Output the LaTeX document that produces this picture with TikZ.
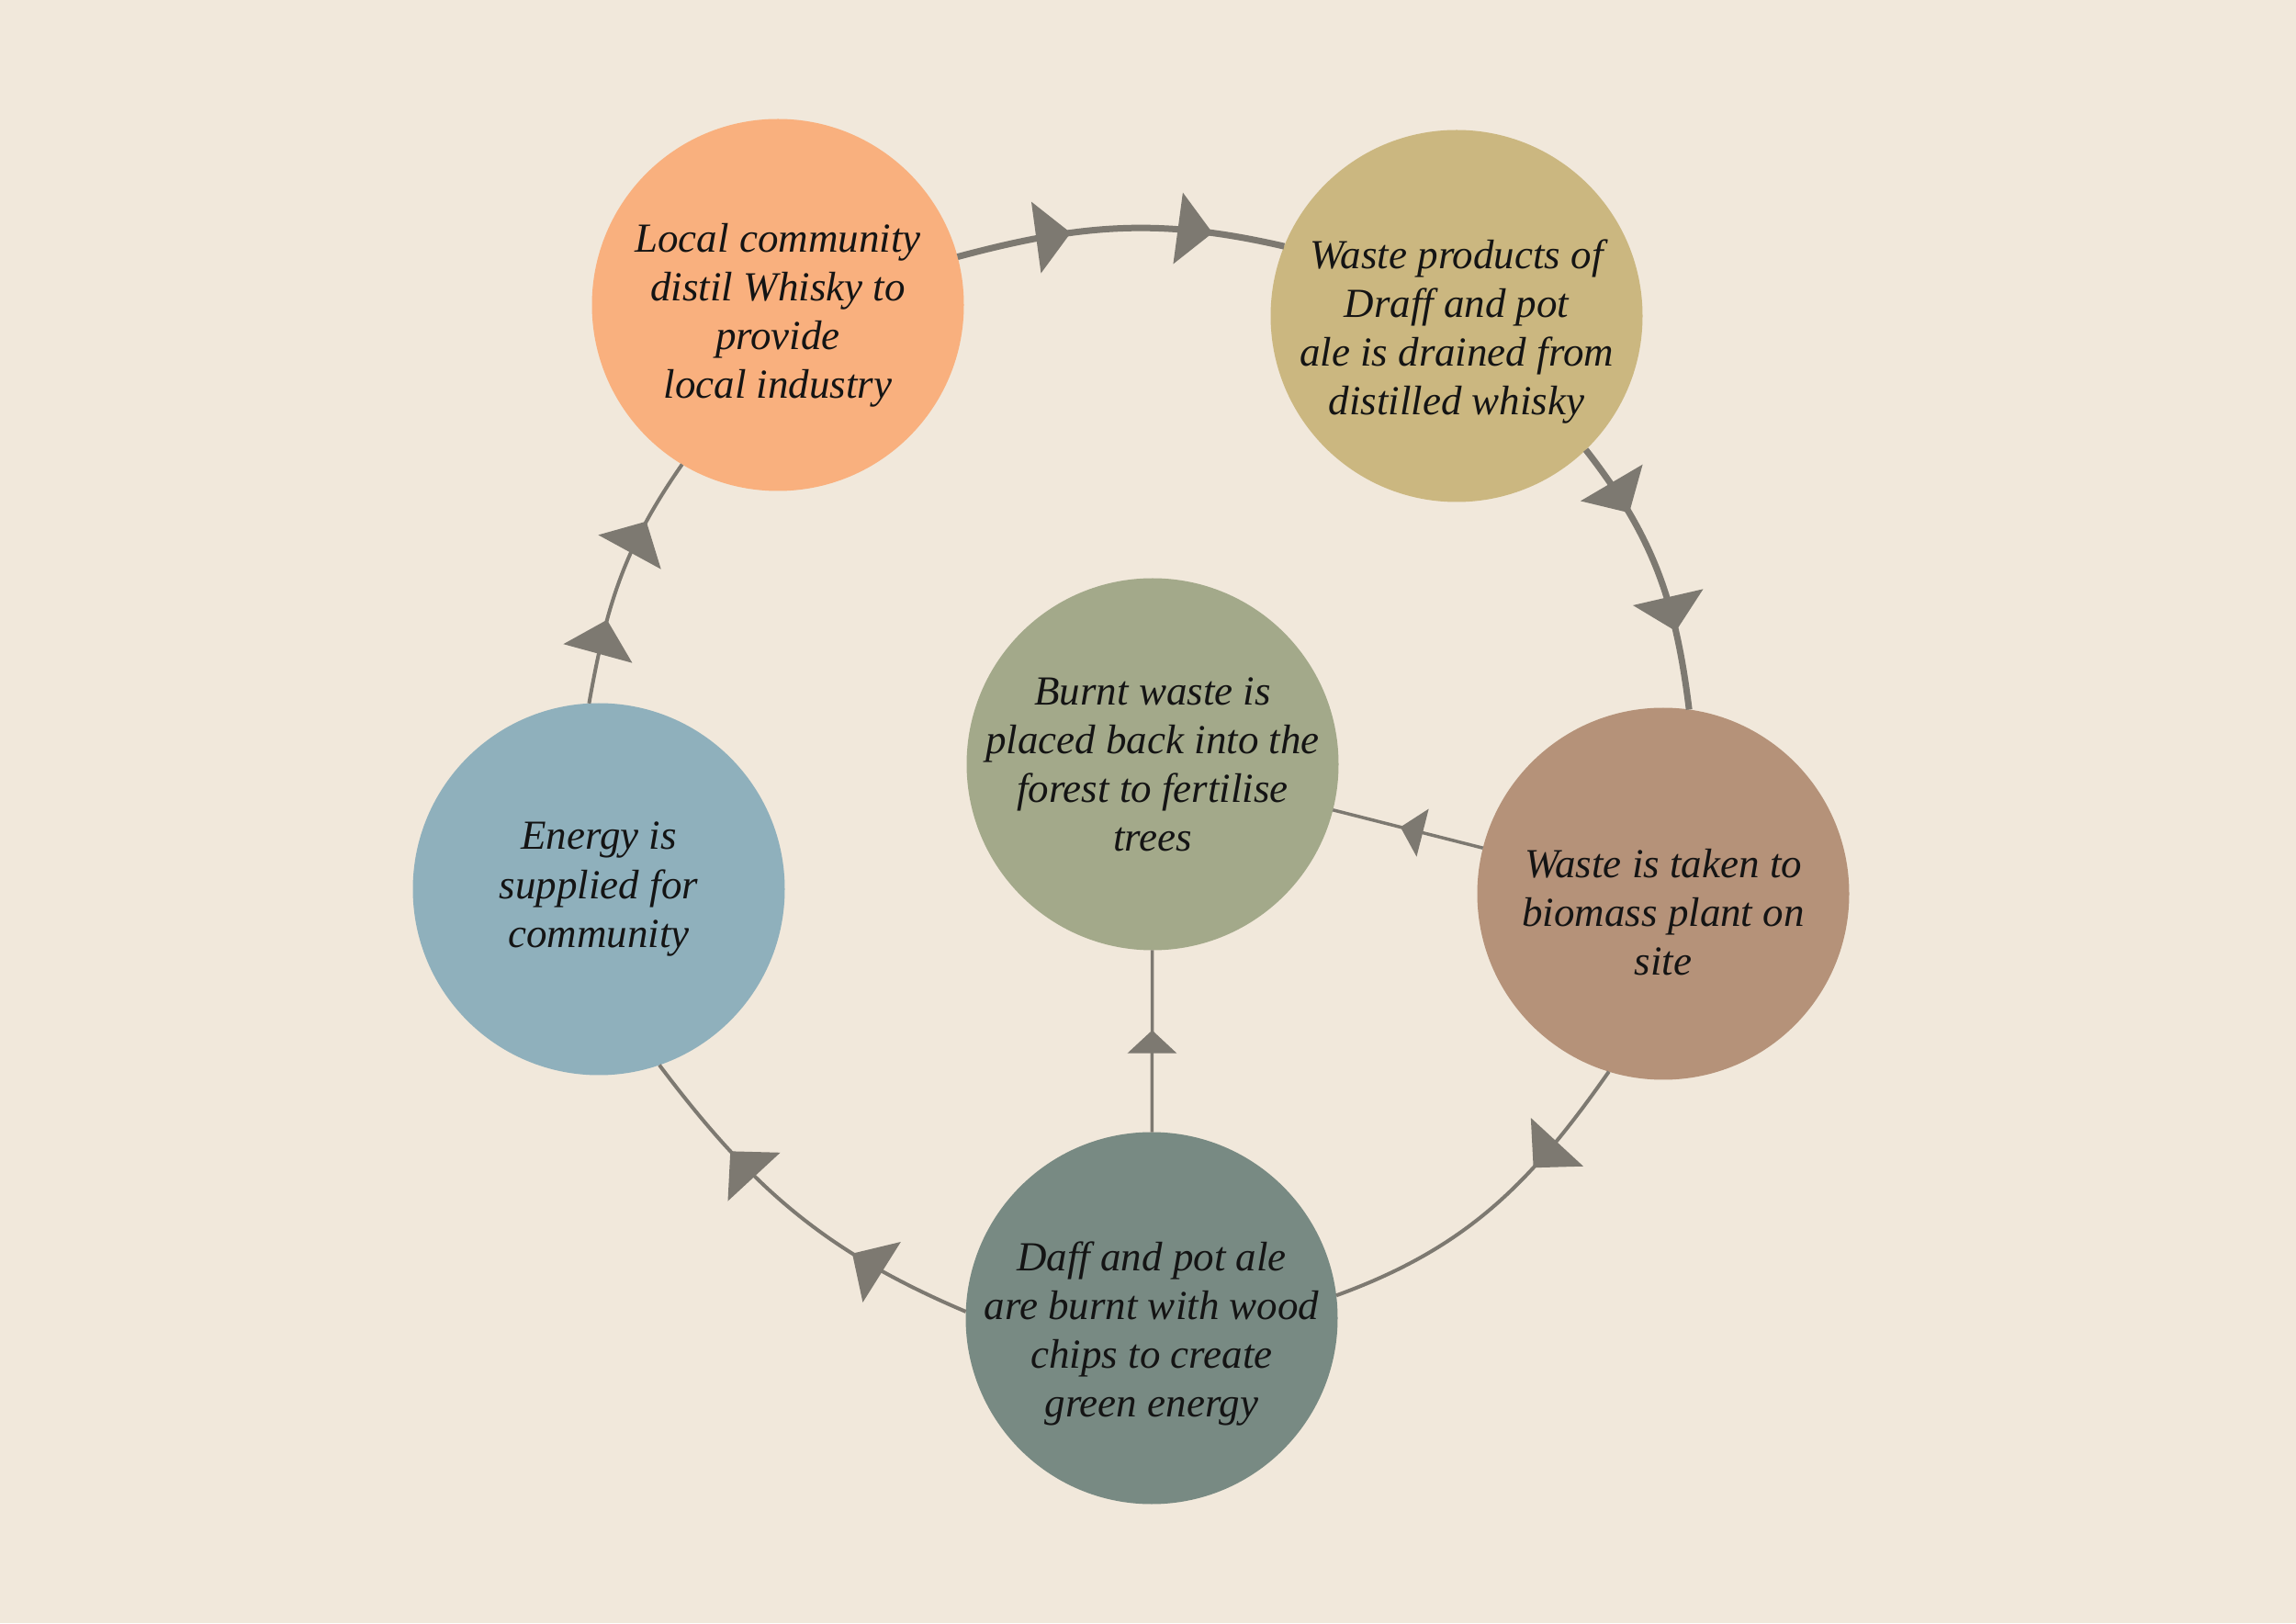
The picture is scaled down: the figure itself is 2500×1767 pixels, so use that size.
\documentclass[tikz,border=0pt]{standalone}
\usepackage{fontspec}
\setmainfont{Liberation Serif}
\usetikzlibrary{arrows.meta,decorations.markings}
\definecolor{paper}{HTML}{F1E8DB}
\definecolor{ink}{HTML}{141414}
\definecolor{wire}{HTML}{7D7971}
\definecolor{peach}{HTML}{F9B07E}
\definecolor{barley}{HTML}{CBB780}
\definecolor{peat}{HTML}{B59279}
\definecolor{pine}{HTML}{788A83}
\definecolor{loch}{HTML}{8FB0BC}
\definecolor{moss}{HTML}{A3A98A}
\tikzset{
  stage/.style={circle, draw=none, minimum size=40.5mm, inner sep=-1.5mm, outer sep=0pt,
                font=\fontsize{12.8}{15.1}\selectfont\itshape, align=center, text=ink},
  drop/.style={text height=#1},
  bigtip/.tip={Triangle[length=3.8mm, width=7.7mm]},
  smalltip/.tip={Triangle[length=2.5mm, width=5.3mm]},
  cycleline/.style={draw=wire, line width=0.4mm, postaction={decorate}},
  twoheads/.style 2 args={decoration={markings,
      mark=at position #1 with {\arrow{bigtip}},
      mark=at position #2 with {\arrow{bigtip}}}},
  onehead/.style={decoration={markings, mark=at position #1 with {\arrow{bigtip}}}},
  feed/.style={draw=wire, line width=0.35mm, postaction={decorate},
      decoration={markings, mark=at position #1 with {\arrow{smalltip}}}},
}
\begin{document}
\begin{tikzpicture}[x=0.1mm, y=0.1mm]
    \fill[paper] (0,0) rectangle (2500,1767);
    \useasboundingbox (0,0) rectangle (2500,1767);
    \node[stage, fill=peach, drop=21.3mm] (local) at (847,1435) {Local community\\distil Whisky to\\provide\\local industry};
    \node[stage, fill=barley, drop=22.5mm] (waste) at (1586,1423) {Waste products of\\Draff and pot\\ale is drained from\\distilled whisky};
    \node[stage, fill=peat, drop=17.7mm] (biomass) at (1811,794) {Waste is taken to\\biomass plant on\\site};
    \node[stage, fill=pine, drop=22.5mm] (burn) at (1254,332) {Daff and pot ale\\are burnt with wood\\chips to create\\green energy};
    \node[stage, fill=loch] (energy) at (652,799) {Energy is\\supplied for\\community};
    \node[stage, fill=moss] (forest) at (1255,935) {Burnt waste is\\placed back into the\\forest to fertilise\\trees};
    % outer cycle
    \draw[cycleline, line width=0.7mm, twoheads={0.35}{0.78}] (local.15) to[out=15, in=167] (waste.158);
    \draw[cycleline, line width=0.7mm, twoheads={0.27}{0.72}] (waste.-46) to[out=-52, in=97] (biomass.82);
    \draw[cycleline, onehead=0.34] (biomass.-107) to[out=-125, in=20] (burn.7);
    \draw[cycleline, twoheads={0.32}{0.72}] (burn.178) to[out=157, in=-53] (energy.-71);
    \draw[cycleline, twoheads={0.33}{0.74}] (energy.93) to[out=80, in=-125] (local.-121);
    % into the forest
    \draw[feed=0.55] (biomass) -- (forest);
    \draw[feed=0.56] (burn) -- (forest);
\end{tikzpicture}
\end{document}
